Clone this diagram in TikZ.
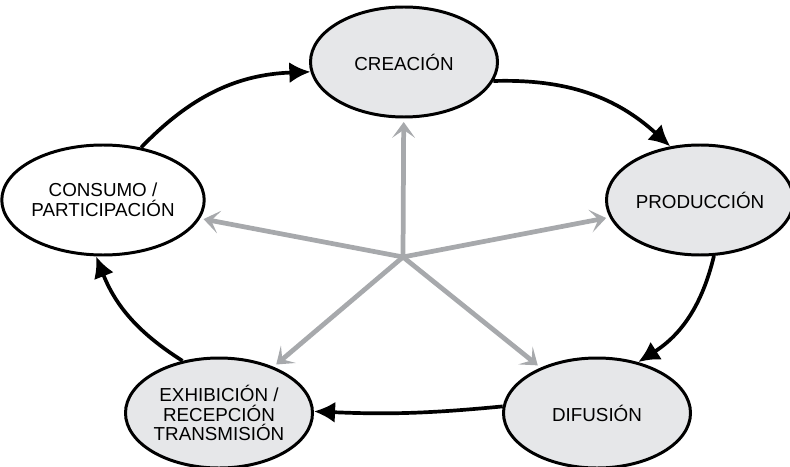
\documentclass[tikz,border=0pt]{standalone}
\usepackage{fontspec}
\setmainfont{Liberation Sans}
\usepackage{tikz}
\usetikzlibrary{arrows.meta,shapes.geometric,positioning}
\definecolor{stagefill}{HTML}{E6E7E9}
\definecolor{hubgray}{HTML}{A7A9AC}

\begin{document}
\begin{tikzpicture}[
    font=\fontsize{10.7}{11.2}\selectfont,
    stage/.style={
		ellipse,
		draw=black,
		line width=1.7pt,
		fill=stagefill,
		align=center,
		inner sep=0pt,
		minimum width=3.74cm,
		minimum height=2.2cm
	},
	cycle/.style={
		line width=2.1pt,
		-{Latex[length=12pt,width=12pt]}
	},
	spoke/.style={
		hubgray,
		line width=2.7pt,
		shorten >=2pt,
		-{Stealth[length=9pt,width=13pt,inset=4.5pt]}
	}
  ]
  \useasboundingbox (0,0) rectangle (15.8,9.32);

    % the five stages round the cycle
  \node [stage] (creacion) at (8.08,8.08) {CREACIÓN};
  \node [stage] (produccion) at (14.0,5.32) {PRODUCCIÓN};
  \node [stage] (difusion) at (11.94,1.06) {DIFUSIÓN};
  \node [stage] (exhibicion) at (4.38,1.06) {EXHIBICIÓN /\\RECEPCIÓN\\TRANSMISIÓN};
  \node [stage, fill=white] (consumo) at (2.06,5.32) {CONSUMO /\\PARTICIPACIÓN};

  \coordinate (hub) at (8.06,4.18);

  \draw [cycle] (consumo.54) to[bend left=22] (creacion.186);
  \draw [cycle] (creacion.348) to[bend left=22] (produccion.119);
  \draw [cycle] (produccion.284) to[bend left=22] (difusion.51);
  \draw [cycle] (difusion.176) to[bend left=4] (exhibicion.1);
  \draw [cycle] (exhibicion.125) to[bend left=18] (consumo.263);

  \foreach \s in {creacion,produccion,difusion,exhibicion,consumo}
    \draw [spoke] (hub) -- (\s);

\end{tikzpicture}
\end{document}
